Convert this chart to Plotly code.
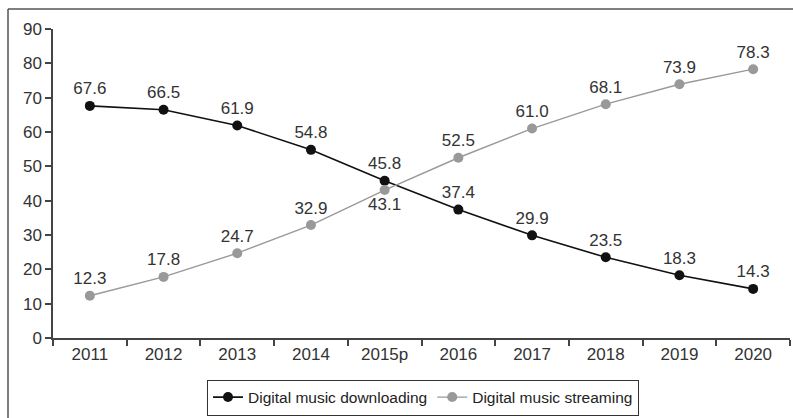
import plotly.graph_objects as go

years = ["2011", "2012", "2013", "2014", "2015p", "2016", "2017", "2018", "2019", "2020"]
downloading = [67.6, 66.5, 61.9, 54.8, 45.8, 37.4, 29.9, 23.5, 18.3, 14.3]
streaming = [12.3, 17.8, 24.7, 32.9, 43.1, 52.5, 61.0, 68.1, 73.9, 78.3]
streaming_label_pos = ["top center"] * 4 + ["bottom center"] + ["top center"] * 5

W, H = 793, 418
L, R, T, B = 53, 3, 29, 80
FONT = "Liberation Sans, Arial, sans-serif"
TEXT = "#333333"

fig = go.Figure()
fig.add_trace(go.Scatter(
    x=years, y=downloading, name="Digital music downloading",
    mode="lines+markers+text",
    line=dict(color="#111111", width=1.6),
    marker=dict(color="#111111", size=10),
    text=[f"{v:.1f}" for v in downloading], textposition="top center",
    textfont=dict(size=17, color=TEXT, family=FONT),
))
fig.add_trace(go.Scatter(
    x=years, y=streaming, name="Digital music streaming",
    mode="lines+markers+text",
    line=dict(color="#999999", width=1.4),
    marker=dict(color="#999999", size=10),
    text=[f"{v:.1f}" for v in streaming], textposition=streaming_label_pos,
    textfont=dict(size=17, color=TEXT, family=FONT),
))

# outer frame (top and left edges)
pw, ph = W - L - R, H - T - B
def px(x):
    return (x - L) / pw
def py(y):
    return (H - B - y) / ph
frame = dict(color="#555555", width=1.5)
fig.add_shape(type="line", xref="paper", yref="paper",
              x0=px(8), x1=px(W + 2), y0=py(9), y1=py(9), line=frame)
fig.add_shape(type="line", xref="paper", yref="paper",
              x0=px(8), x1=px(8), y0=py(9), y1=py(H + 2), line=frame)

axis_common = dict(showline=True, linecolor="#444444", linewidth=1.5,
                   ticks="outside", tickcolor="#444444", ticklen=6, tickwidth=1.5,
                   showgrid=False, zeroline=False,
                   tickfont=dict(size=17, color=TEXT, family=FONT))
fig.update_xaxes(type="category", tickson="boundaries", range=[-0.5, 9.5], **axis_common)
fig.update_yaxes(range=[0, 90], dtick=10, **axis_common)

fig.update_layout(
    width=W, height=H,
    margin=dict(l=L, r=R, t=T, b=B),
    paper_bgcolor="white", plot_bgcolor="white",
    font=dict(family=FONT, color=TEXT),
    showlegend=True,
    legend=dict(orientation="h", x=px(423), xanchor="center", y=py(397.5), yanchor="middle",
                bordercolor="#333333", borderwidth=1,
                font=dict(size=15.5, color="#222222", family=FONT),
                itemwidth=30),
)

fig.write_html("out.html")
